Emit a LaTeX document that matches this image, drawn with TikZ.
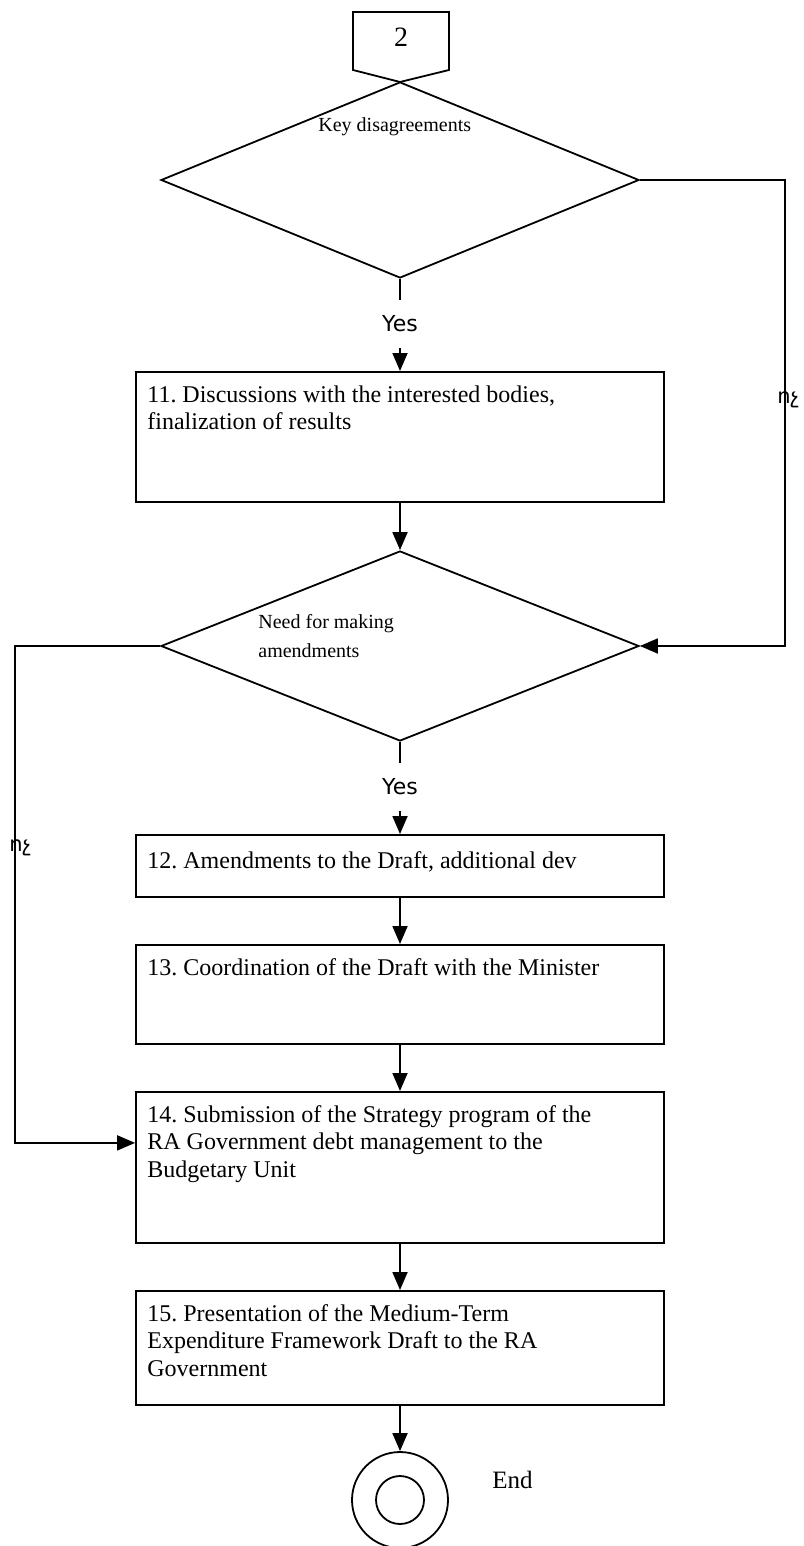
\documentclass[tikz,border=0pt]{standalone}
\usepackage{fontspec}
\setmainfont{Liberation Serif}
\newfontfamily\armfont{DejaVu Sans}
\usetikzlibrary{arrows.meta,shapes.geometric}
\frenchspacing

\tikzset{
	shapeline/.style={line width=0.9pt},
	flow/.style={line width=0.9pt, -{Triangle[width=7.5pt,length=9pt]}},
	stepbox/.style={draw, line width=0.9pt, minimum width=264pt, anchor=north, inner sep=0pt},
	steptext/.style={anchor=north west, align=left, inner sep=0pt, font=\fontsize{12}{13.8}\selectfont},
	decision/.style={draw, diamond, line width=0.9pt, minimum width=239pt, inner sep=0pt},
	decisiontext/.style={anchor=north west, align=left, inner sep=0pt, font=\fontsize{10}{14.5}\selectfont},
	yesnode/.style={inner sep=0pt, minimum height=24pt, font=\armfont\fontsize{11}{13}\selectfont},
	nonode/.style={anchor=west, inner sep=0pt, font=\armfont\fontsize{10.5}{12}\selectfont},
	endring/.style={draw, circle, line width=0.9pt, inner sep=0pt}
}

\begin{document}
\begin{tikzpicture}[x=0.5pt,y=-0.5pt]
		\useasboundingbox (0,0) rectangle (803,1546);
		% off-page connector
		\draw[shapeline] (353,12) -- (449,12) -- (449,70) -- (400,82) -- (353,70) -- cycle;
		\node[inner sep=0pt, font=\fontsize{14}{16}\selectfont] (conn) at (401,37.5) {2};
		% first decision
		\node[decision, minimum height=98pt] (d1) at (400,180) {};
		\node[decisiontext] (d1t) at (318,117) {Key disagreements};
		\node[yesnode] (y1) at (400,324) {Yes};
		\node[stepbox, minimum height=65pt] (b11) at (400,371) {};
		\node[steptext] (t11) at (147,385) {11. Discussions with the interested bodies,\\finalization of results};
		% second decision
		\node[decision, minimum height=95pt] (d2) at (400,646) {};
		\node[decisiontext] (d2t) at (258,614) {Need for making\\amendments};
		\node[yesnode] (y2) at (400,787) {Yes};
		\node[stepbox, minimum height=31pt] (b12) at (400,834) {};
		\node[steptext] (t12) at (147,851) {12. Amendments to the Draft, additional dev};
		\node[stepbox, minimum height=49.5pt] (b13) at (400,944) {};
		\node[steptext] (t13) at (147,958) {13. Coordination of the Draft with the Minister};
		\node[stepbox, minimum height=75.5pt] (b14) at (400,1091) {};
		\node[steptext] (t14) at (147,1105) {14. Submission of the Strategy program of the\\RA Government debt management to the\\Budgetary Unit};
		\node[stepbox, minimum height=57pt] (b15) at (400,1290) {};
		\node[steptext] (t15) at (147,1304) {15. Presentation of the Medium-Term\\Expenditure Framework Draft to the RA\\Government};
		% end
		\node[endring, minimum size=48pt] (endo) at (400,1500) {};
		\node[endring, minimum size=24pt] (endi) at (endo.center) {};
		\node[anchor=west, inner sep=0pt, font=\fontsize{12.5}{14}\selectfont] (endt) at (492,1480) {End};
		% labels on the loops
		\node[nonode] (no1) at (777,400) {ոչ};
		\node[nonode] (no2) at (9,848) {ոչ};
		% connectors
		\draw[shapeline] (d1.south) -- (y1.north);
		\draw[flow] (y1.south) -- (b11.north);
		\draw[flow] (b11.south) -- (d2.north);
		\draw[shapeline] (d2.south) -- (y2.north);
		\draw[flow] (y2.south) -- (b12.north);
		\draw[flow] (b12.south) -- (b13.north);
		\draw[flow] (b13.south) -- (b14.north);
		\draw[flow] (b14.south) -- (b15.north);
		\draw[flow] (b15.south) -- (endo.north);
		\draw[flow] (d1.east) -- ++(145,0) |- (d2.east);
		\draw[flow] (d2.west) -- ++(-145,0) |- ([yshift=12.25pt]b14.west);
	\end{tikzpicture}
\end{document}
